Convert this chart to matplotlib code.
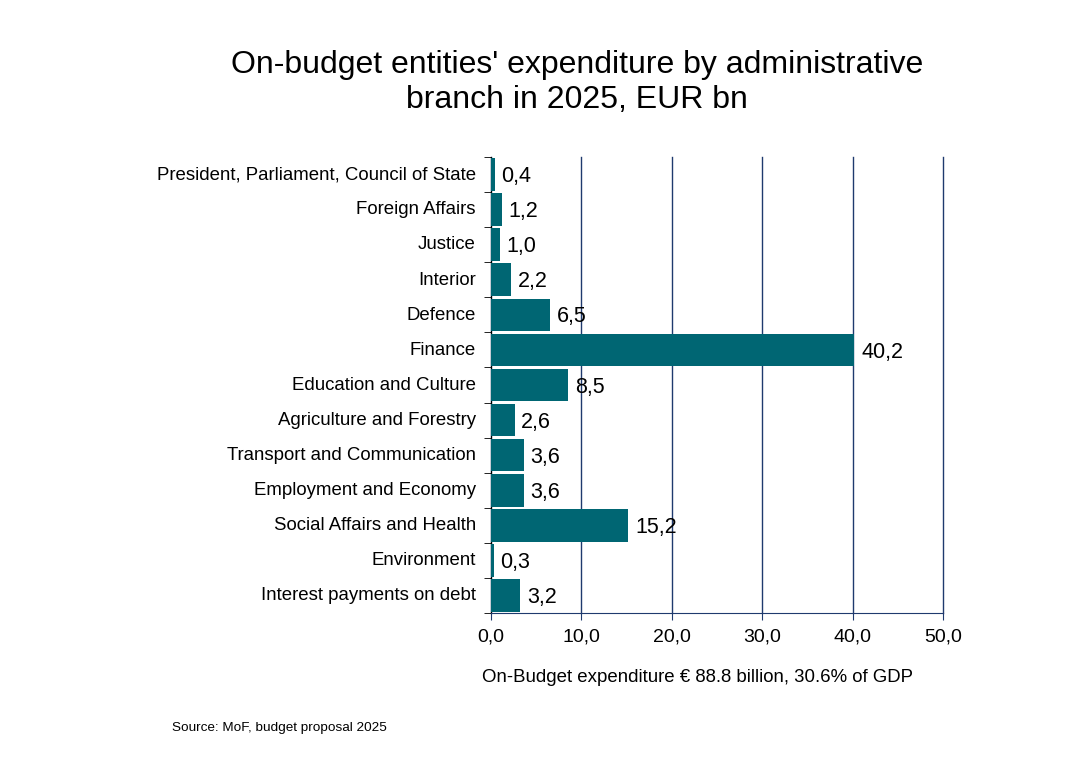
import matplotlib.pyplot as plt
import numpy as np

categories = ['President, Parliament, Council of State', 'Foreign Affairs', 'Justice',
              'Interior', 'Defence', 'Finance', 'Education and Culture',
              'Agriculture and Forestry', 'Transport and Communication',
              'Employment and Economy', 'Social Affairs and Health', 'Environment',
              'Interest payments on debt']
values = [0.4, 1.2, 1.0, 2.2, 6.5, 40.2, 8.5, 2.6, 3.6, 3.6, 15.2, 0.3, 3.2]
xticks = [0, 10, 20, 30, 40, 50]

plt.rcParams['font.family'] = ['Liberation Sans', 'DejaVu Sans']

bar_color = '#006673'
grid_color = '#1F3A6E'

fig = plt.figure(figsize=(10.84, 7.65), dpi=100)
ax = fig.add_axes([0.453, 0.1987, 0.417, 0.596])

y = np.arange(len(categories))
ax.barh(y, values, height=0.93, color=bar_color, zorder=3)
for yi, v in zip(y, values):
    ax.text(v + 0.75, yi + 0.06, f'{v:.1f}'.replace('.', ','), va='center', ha='left',
            fontsize=15.5, color='black', zorder=4)

ax.set_ylim(len(categories) - 0.5, -0.5)
ax.set_xlim(0, 50)
ax.set_yticks(y - 0.05)
ax.set_yticklabels(categories, fontsize=13.4)
ax.set_yticks(np.arange(len(categories) + 1) - 0.5, minor=True)
ax.tick_params(axis='y', which='major', length=0, pad=11)
ax.tick_params(axis='y', which='minor', length=5, direction='out', color='black')
ax.set_xticks(xticks)
ax.set_xticklabels([f'{t:.1f}'.replace('.', ',') for t in xticks], fontsize=14)
ax.tick_params(axis='x', length=5, color=grid_color, pad=6)

ax.grid(axis='x', color=grid_color, linewidth=1, zorder=0)
for gl in ax.get_xgridlines():
    gl.set_clip_on(False)
for s in ['top', 'right']:
    ax.spines[s].set_visible(False)
ax.spines['left'].set_color('black')
ax.spines['bottom'].set_color(grid_color)

fig.text(0.532, 0.892, "On-budget entities' expenditure by administrative\nbranch in 2025, EUR bn",
         ha='center', va='center', fontsize=23, linespacing=1.25)
fig.text(0.643, 0.115, 'On-Budget expenditure € 88.8 billion, 30.6% of GDP',
         ha='center', va='center', fontsize=13.4)
fig.text(0.159, 0.049, 'Source: MoF, budget proposal 2025', ha='left', va='center', fontsize=9.7)

fig.savefig('out.png', dpi=100)
